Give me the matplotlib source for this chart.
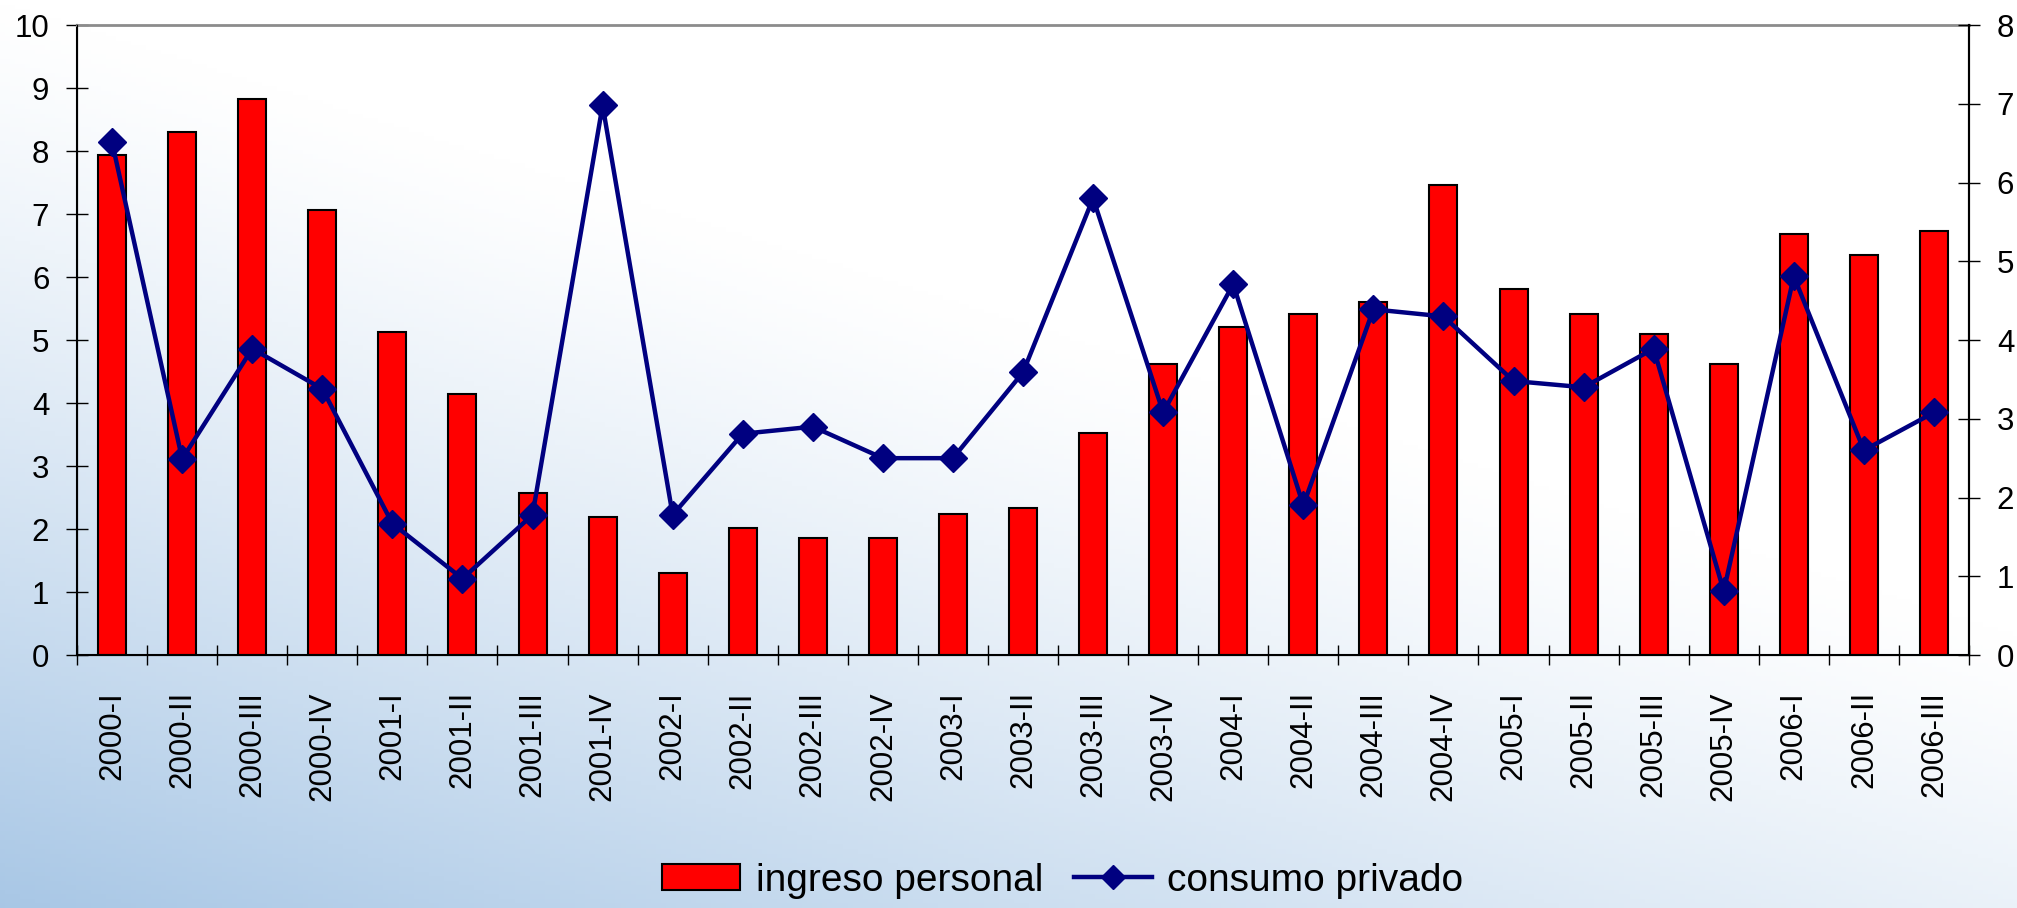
import numpy as np
import matplotlib
matplotlib.use("Agg")
from matplotlib import pyplot as plt
from matplotlib.lines import Line2D
from matplotlib.patches import Patch

plt.rcParams['font.family'] = ['Liberation Sans', 'DejaVu Sans']

# quarters
periods = ["2000-I", "2000-II", "2000-III", "2000-IV",
           "2001-I", "2001-II", "2001-III", "2001-IV",
           "2002-I", "2002-II", "2002-III", "2002-IV",
           "2003-I", "2003-II", "2003-III", "2003-IV",
           "2004-I", "2004-II", "2004-III", "2004-IV",
           "2005-I", "2005-II", "2005-III", "2005-IV",
           "2006-I", "2006-II", "2006-III"]

# left axis (bars)
ingreso = [7.93, 8.31, 8.83, 7.07, 5.13, 4.15, 2.57, 2.19, 1.30,
           2.02, 1.86, 1.86, 2.24, 2.33, 3.52, 4.62, 5.20, 5.42,
           5.60, 7.46, 5.81, 5.42, 5.09, 4.62, 6.69, 6.35, 6.73]

# right axis (line)
consumo = [6.51, 2.49, 3.89, 3.38, 1.67, 0.97, 1.78, 6.98, 1.78,
           2.81, 2.90, 2.50, 2.50, 3.59, 5.80, 3.08, 4.71, 1.90,
           4.39, 4.30, 3.48, 3.40, 3.89, 0.81, 4.81, 2.60, 3.08]

fig = plt.figure(figsize=(20.17, 9.08), dpi=100)

# soft blue background fading to white towards top-right
bg = fig.add_axes([0, 0, 1, 1], zorder=-10)
yy, xx = np.mgrid[0:1:200j, 0:1:400j]
d = np.clip(1.0 - (0.7 * xx + 1.0 * yy), 0, 1) ** 1.2
c0 = np.array([1.0, 1.0, 1.0])
c1 = np.array([0.66, 0.78, 0.90])
img = c0 + (c1 - c0) * d[..., None]
bg.imshow(img, origin="lower", extent=[0, 1, 0, 1], aspect="auto")
bg.axis("off")

ax = fig.add_axes([0.0382, 0.2786, 0.938, 0.6938])
ax.patch.set_alpha(0)
x = np.arange(len(periods))

ax.bar(x, ingreso, width=0.4, color="#ff0000", edgecolor="black", linewidth=1.5, zorder=2)
ax.set_xlim(-0.5, len(periods) - 0.5)
ax.set_ylim(0, 10)
ax.set_yticks(range(0, 11))
ax.tick_params(axis="y", labelsize=22.5, length=16, width=1, direction="inout", pad=12)

ax.set_xticks(x)
ax.set_xticklabels(periods, rotation=90, fontsize=22.5)
ax.tick_params(axis="x", length=0, pad=26)
ax.set_xticks(np.arange(-0.5, len(periods)), minor=True)
ax.tick_params(axis="x", which="minor", length=15, width=1, direction="inout")

for s in ["left", "bottom", "right"]:
    ax.spines[s].set_color("black")
    ax.spines[s].set_linewidth(1.5)
ax.spines["top"].set_color("#8c8c8c")
ax.spines["top"].set_linewidth(2)

ax2 = ax.twinx()
ax2.plot(x, consumo, color="#000080", linewidth=3.2, marker="D", markersize=14, zorder=3)
ax2.set_ylim(0, 8)
ax2.set_yticks(range(0, 9))
ax2.tick_params(axis="y", labelsize=22.5, length=16, width=1, direction="inout", pad=12)
ax2.spines["right"].set_color("black")
ax2.spines["right"].set_linewidth(1.5)
ax2.spines["top"].set_visible(False)

handles = [Patch(facecolor="#ff0000", edgecolor="black", linewidth=1.5),
           Line2D([], [], color="#000080", linewidth=3.2, marker="D", markersize=12.5)]
fig.legend(handles, ["ingreso personal", "consumo privado"],
           loc="center", bbox_to_anchor=(0.527, 0.03), ncol=2, frameon=False,
           fontsize=28, handlelength=2.0, handleheight=0.67,
           columnspacing=0.8, handletextpad=0.4, borderpad=0.1)

fig.savefig("out.png", dpi=100)
